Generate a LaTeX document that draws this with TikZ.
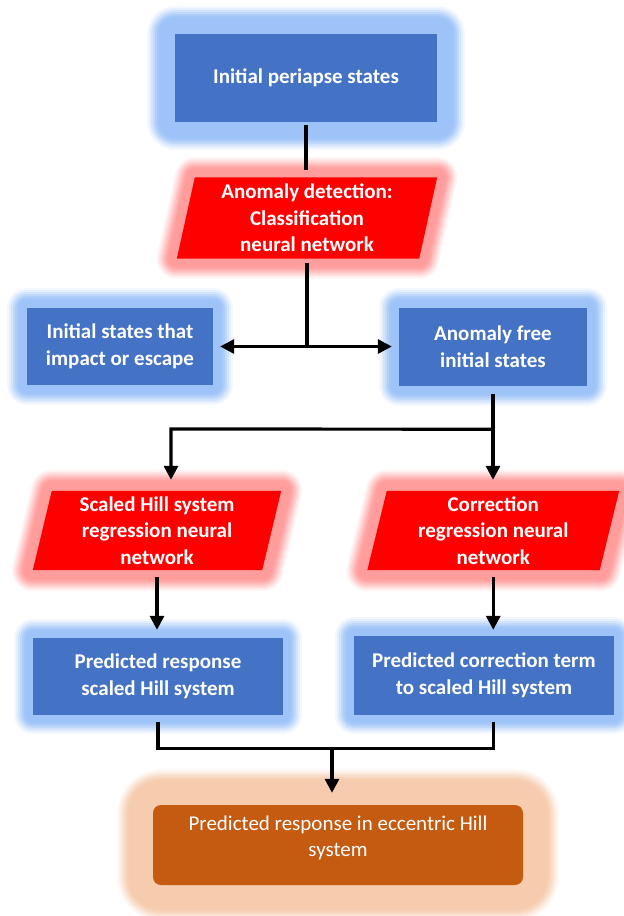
\documentclass[tikz,border=0pt]{standalone}
\usepackage{fontspec}
\setmainfont{Carlito}
\usetikzlibrary{arrows.meta,calc,backgrounds}
\definecolor{boxblue}{HTML}{4472C4}
\definecolor{glowblue}{HTML}{9DC3F8}
\definecolor{boxred}{HTML}{FF0000}
\definecolor{glowred}{HTML}{FF9C9C}
\definecolor{boxorange}{HTML}{C55A11}
\definecolor{gloworange}{HTML}{F6CBAE}
\begin{document}
\begin{tikzpicture}[x=1pt,y=-1pt,
  glow/.style 2 args={
    preaction={draw=#1,line width=#2pt+14pt,draw opacity=.12,line join=round},
    preaction={draw=#1,line width=#2pt+10pt,draw opacity=.18,line join=round},
    preaction={draw=#1,line width=#2pt+6pt,draw opacity=.25,line join=round},
    preaction={draw=#1,line width=#2pt+2pt,draw opacity=.35,line join=round},
    preaction={draw=#1,line width=#2pt-2pt,draw opacity=.5,line join=round},
    preaction={draw=#1,line width=#2pt-6pt,draw opacity=.7,line join=round},
    preaction={draw=#1,line width=#2pt-10pt,line join=round}},
  boxtext/.style={text=white,align=center,inner sep=0pt,
    font=\bfseries\fontsize{21}{26.5}\selectfont},
  bluebox/.style={boxtext,rectangle,fill=boxblue},
  redtext/.style={boxtext,rectangle},
  conn/.style={draw=black,line width=3.2pt},
  arr/.style={conn,-{Triangle[length=14pt,width=14pt]}}]
\useasboundingbox (0,0) rectangle (624,916);

% nodes
\node[bluebox,glow={glowblue}{42},minimum width=262pt,minimum height=88pt] (n1) at (306,78) {Initial periapse states};
\node[redtext,minimum width=242pt,minimum height=81pt] (n2) at (307,218) {Anomaly detection:\\Classification\\neural network};
\node[bluebox,glow={glowblue}{26},minimum width=186pt,minimum height=77pt] (n3) at (120,346.5) {Initial states that\\impact or escape};
\node[bluebox,glow={glowblue}{26},minimum width=188pt,minimum height=78pt] (n4) at (493,346.5) {Anomaly free\\initial states};
\node[redtext,minimum width=229pt,minimum height=79pt] (n5) at (157,530.5) {Scaled Hill system\\regression neural\\network};
\node[redtext,minimum width=232pt,minimum height=79pt] (n6) at (493.25,530.5) {Correction\\regression neural\\network};
\node[bluebox,glow={glowblue}{24},minimum width=250pt,minimum height=77pt] (n7) at (158,676.5) {Predicted response\\scaled Hill system};
\node[bluebox,glow={glowblue}{24},minimum width=260pt,minimum height=79pt] (n8) at (484,675.5) {Predicted correction term\\to scaled Hill system};
\node[rectangle,fill=boxorange,rounded corners=8pt,glow={gloworange}{58},minimum width=370pt,minimum height=80pt,inner sep=0pt] (n9) at (338,845) {};
\node[text=white,align=center,inner sep=0pt,font=\fontsize{21}{26.5}\selectfont] (n9t) at (338,838) {Predicted response in eccentric Hill\\system};

% parallelogram shapes behind the red text nodes
\begin{scope}[on background layer]
\path[fill=boxred,glow={glowred}{26}] ($(n2.north west)+(9,0)$) -- ($(n2.north east)+(9,0)$) -- ($(n2.south east)+(-9,0)$) -- ($(n2.south west)+(-9,0)$) -- cycle;
\path[fill=boxred,glow={glowred}{28}] ($(n5.north west)+(9.5,0)$) -- ($(n5.north east)+(9.5,0)$) -- ($(n5.south east)+(-9.5,0)$) -- ($(n5.south west)+(-9.5,0)$) -- cycle;
\path[fill=boxred,glow={glowred}{28}] ($(n6.north west)+(9.75,0)$) -- ($(n6.north east)+(9.75,0)$) -- ($(n6.south east)+(-9.75,0)$) -- ($(n6.south west)+(-9.75,0)$) -- cycle;
\end{scope}

% connectors
\draw[conn,shorten <=3pt,shorten >=7pt] (n1.south) -- (n1.south |- n2.north);
\coordinate (j1) at (n2.south |- n3.east);
\draw[conn,shorten <=4pt] (n2.south) -- (j1);
\draw[arr,shorten >=7pt] (j1) -- (n3.east);
\draw[arr,shorten >=7pt] (j1) -- (n4.west);
\coordinate (j2) at ($(n4.south)+(0,43.5)$);
\coordinate (j3) at (171,429);
\draw[conn,shorten <=8pt] (n4.south) -- (j2);
\draw[arr,shorten >=11pt] (j2) -- (j3) -- (j3 |- n5.north);
\draw[arr,shorten >=11pt] (j2) -- (j2 |- n6.north);
\draw[arr,shorten <=7pt,shorten >=8pt] (n5.south) -- (n5.south |- n7.north);
\draw[arr,shorten <=7pt,shorten >=6pt] (n6.south) -- (n6.south |- n8.north);
\coordinate (j4) at ($(n7.south)+(0,33)$);
\draw[conn,shorten <=7pt,shorten >=7pt] (n7.south) -- (j4) -- (j4 -| n6.south) -- (n6.south |- n8.south);
\coordinate (j5) at ($(j4)+(174,0)$);
\draw[arr,shorten >=12pt] (j5) -- (j5 |- n9.north);
\end{tikzpicture}
\end{document}
